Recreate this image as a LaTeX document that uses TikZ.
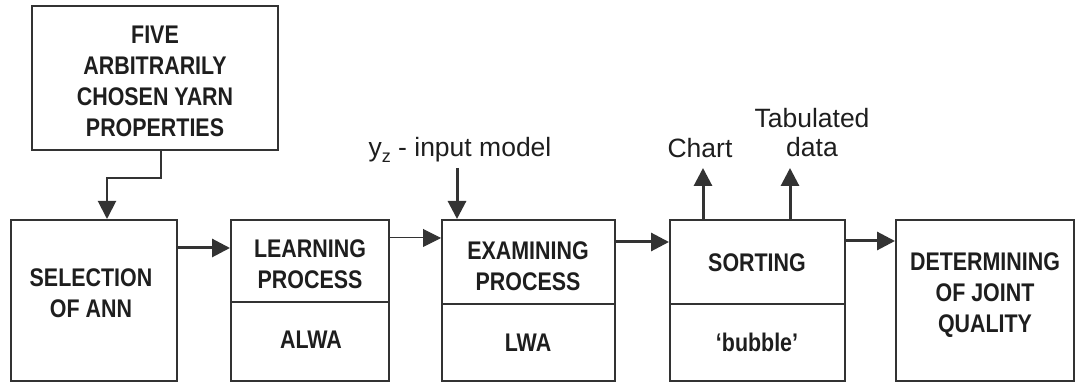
\documentclass[tikz,border=0pt]{standalone}
\usepackage{fontspec}
\setmainfont{Liberation Sans}
\newfontfamily\condb[FakeStretch=0.84]{Liberation Sans Bold}
\usetikzlibrary{arrows.meta}
\definecolor{ln}{HTML}{333333}
\definecolor{tx}{HTML}{1E1E1E}
\tikzset{
  x=1pt,y=1pt,
  box/.style={draw=ln,line width=2pt,rectangle,inner sep=0pt},
  btext/.style={text=tx,align=center,font=\condb\fontsize{25.5}{31}\selectfont,inner sep=0pt},
  rtext/.style={text=tx,align=center,font=\fontsize{26.5}{29}\selectfont,inner sep=0pt},
  thickarrow/.style={draw=ln,line width=3pt,-{Triangle[length=18pt,width=18pt]}},
  thinarrow/.style={draw=ln,line width=1pt,-{Triangle[length=18pt,width=18pt]}},
  elbowarrow/.style={draw=ln,line width=2pt,-{Triangle[length=18pt,width=18pt]}},
  divider/.style={draw=ln,line width=1.3pt}
}
\begin{document}
\begin{tikzpicture}
\useasboundingbox (0,0) rectangle (1076,385);
% boxes
\node[box,minimum width=246,minimum height=144] (five) at (155,307) {};
\node[box,minimum width=166,minimum height=161] (sel) at (94,84.5) {};
\node[box,minimum width=158,minimum height=161] (learn) at (310,84.5) {};
\node[box,minimum width=173,minimum height=161] (exam) at (528.5,84.5) {};
\node[box,minimum width=175,minimum height=161] (sort) at (757.5,84.5) {};
\node[box,minimum width=178,minimum height=161] (det) at (985,84.5) {};
% dividers
\draw[divider] (learn.west |- 0,83) -- (learn.east |- 0,83);
\draw[divider] (exam.west |- 0,81) -- (exam.east |- 0,81);
\draw[divider] (sort.west |- 0,81) -- (sort.east |- 0,81);
% texts
\node[btext] (fivet) at (155,304) {FIVE\\ARBITRARILY\\CHOSEN YARN\\PROPERTIES};
\node[btext] (selt) at (91,92) {SELECTION\\OF ANN};
\node[btext] (learnt) at (310,120.5) {LEARNING\\PROCESS};
\node[btext] (alwa) at (311,45) {ALWA};
\node[btext] (examt) at (528,119) {EXAMINING\\PROCESS};
\node[btext] (lwa) at (528,42) {LWA};
\node[btext] (sortt) at (757,122) {SORTING};
\node[btext] (bub) at (757,43) {‘bubble’};
\node[btext] (dett) at (985,90) {DETERMINING\\OF JOINT\\QUALITY};
\node[rtext] (yz) at (460,235) {y\raisebox{-0.22em}{\fontsize{18}{18}\selectfont z} - input model};
\node[rtext] (chart) at (700,237) {Chart};
\node[rtext] (tab) at (812,252.5) {Tabulated\\data};
% free ends
\coordinate (yzs) at (457,217);
\coordinate (charte) at (703,217);
\coordinate (tabe) at (790,217);
% connectors
\draw[elbowarrow] (five.south -| 161,0) -- (161,207) -| (sel.north -| 107,0);
\draw[thickarrow] (sel.east |- 0,137) -- (learn.west |- 0,137);
\draw[thinarrow] (learn.east |- 0,147) -- (exam.west |- 0,147);
\draw[thickarrow] (exam.east |- 0,143) -- (sort.west |- 0,143);
\draw[thickarrow] (sort.east |- 0,144) -- (det.west |- 0,144);
\draw[thickarrow] (yzs) -- (exam.north -| yzs);
\draw[thickarrow] (sort.north -| charte) -- (charte);
\draw[thickarrow] (sort.north -| tabe) -- (tabe);
\end{tikzpicture}
\end{document}
